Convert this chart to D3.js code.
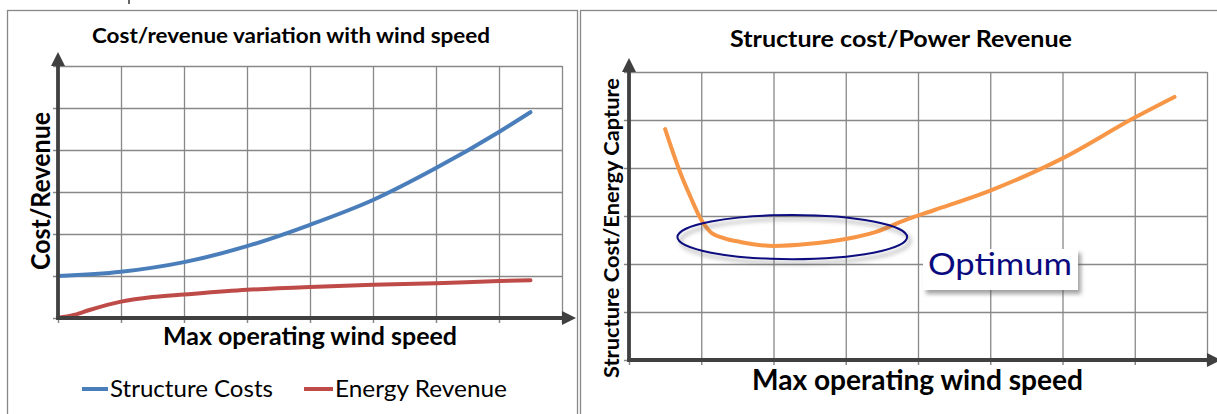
<!DOCTYPE html>
<html>
<head>
<meta charset="utf-8">
<script src="https://cdn.jsdelivr.net/npm/d3@7"></script>
<style>
  html, body { margin: 0; padding: 0; background: #fff; }
  svg { display: block; }
  text { font-family: Lato, "Open Sans", sans-serif; fill: #000; }
</style>
</head>
<body>
<svg id="chart" width="1217" height="414"></svg>
<script>
// ---- data -------------------------------------------------------------
// Left panel: cost / revenue versus max operating wind speed (arbitrary units)
const costX     = [0, 1, 2, 3, 4, 5, 6, 7, 7.5];
const costY     = [1.0, 1.1, 1.33, 1.71, 2.22, 2.81, 3.57, 4.43, 4.9];
const revenueX  = [0, 0.25, 0.5, 1, 1.5, 2, 3, 4, 5, 6, 7, 7.5];
const revenueY  = [0, 0.07, 0.19, 0.39, 0.5, 0.56, 0.67, 0.74, 0.79, 0.83, 0.88, 0.9];
// Right panel: ratio of structure cost to energy capture
const ratioX    = [0.5, 0.71, 0.85, 1.0, 1.125, 1.31, 1.54, 2.0, 2.5, 3.0, 3.42, 3.83, 4.22, 5.0, 5.67, 6.0, 7.0, 7.55];
const ratioY    = [4.81, 3.9, 3.4, 2.92, 2.67, 2.54, 2.46, 2.375, 2.42, 2.52, 2.67, 2.92, 3.12, 3.53, 3.96, 4.2, 5.05, 5.48];
const seriesNames = ["Structure Costs", "Energy Revenue"];
const titles    = ["Cost/revenue variation with wind speed", "Structure cost/Power Revenue"];
const yLabels   = ["Cost/Revenue", "Structure Cost/Energy  Capture"];
const xLabel    = "Max operating wind speed";
const optimumLabel = "Optimum";
// optimum region (centre and half-widths in data units)
const optimumCentre = [2.26, 2.56];
const optimumRadii  = [1.59, 0.46];

// ---- drawing ----------------------------------------------------------
const svg = d3.select("#chart");
const GRID = "#888", AXIS = "#404040";
const colors = { cost: "#4a7ebb", revenue: "#be4b48", ratio: "#f79646", navy: "#0a0a80" };

const defs = svg.append("defs");
defs.append("filter").attr("id", "shadow").attr("x", "-20%").attr("y", "-40%").attr("width", "150%").attr("height", "200%")
  .append("feDropShadow").attr("dx", 3).attr("dy", 4).attr("stdDeviation", 2.2)
  .attr("flood-color", "#555").attr("flood-opacity", 0.55);

// panel frames
svg.append("rect").attr("x", 7.5).attr("y", 10.5).attr("width", 570).attr("height", 420)
  .attr("fill", "none").attr("stroke", GRID).attr("stroke-width", 1.3);
svg.append("rect").attr("x", 580.5).attr("y", 10.5).attr("width", 700).attr("height", 420)
  .attr("fill", "none").attr("stroke", GRID).attr("stroke-width", 1.3);
// small connector mark peeking in at the top
svg.append("line").attr("x1", 129).attr("x2", 129).attr("y1", 0).attr("y2", 4)
  .attr("stroke", "#666").attr("stroke-width", 2);

function fitText(g, str, x, y, len, size, weight, anchor, extra) {
  const t = g.append("text").attr("x", x).attr("y", y).text(str)
    .attr("font-size", size).attr("font-weight", weight)
    .attr("textLength", len).attr("lengthAdjust", "spacingAndGlyphs");
  if (anchor) t.attr("text-anchor", anchor);
  if (extra) extra(t);
  return t;
}

function panel(opt) {
  const g = svg.append("g");
  const x = d3.scaleLinear().domain([0, 8]).range(opt.xr);
  const y = d3.scaleLinear().domain([0, 6]).range(opt.yr);
  const w = opt.xr[1] - opt.xr[0], h = opt.yr[0] - opt.yr[1];

  // grid from the axes' ticks
  g.append("g").attr("transform", `translate(${opt.xr[0]},0)`)
    .call(d3.axisLeft(y).ticks(6).tickSize(-w).tickFormat(""))
    .call(s => s.select(".domain").remove())
    .call(s => s.selectAll("line").attr("stroke", GRID).attr("stroke-width", 1.3));
  g.append("g").attr("transform", `translate(0,${opt.yr[1]})`)
    .call(d3.axisTop(x).ticks(8).tickSize(-h).tickFormat(""))
    .call(s => s.select(".domain").remove())
    .call(s => s.selectAll("line").attr("stroke", GRID).attr("stroke-width", 1.3));
  // short outer tick marks
  g.append("g").attr("transform", `translate(${opt.xr[0]},0)`)
    .call(d3.axisLeft(y).ticks(6).tickSize(5).tickFormat(""))
    .call(s => s.select(".domain").remove())
    .call(s => s.selectAll("line").attr("stroke", GRID).attr("stroke-width", 1.5));
  g.append("g").attr("transform", `translate(0,${opt.yr[0]})`)
    .call(d3.axisBottom(x).ticks(8).tickSize(5).tickFormat(""))
    .call(s => s.select(".domain").remove())
    .call(s => s.selectAll("line").attr("stroke", GRID).attr("stroke-width", 1.5));

  // series
  opt.series.forEach(s => {
    const pts = s.xs.map((v, i) => [v, s.ys[i]]);
    g.append("path").datum(pts)
      .attr("fill", "none").attr("stroke", s.color).attr("stroke-width", 4)
      .attr("stroke-linecap", "round").attr("stroke-linejoin", "round")
      .attr("d", d3.line().x(d => x(d[0])).y(d => y(d[1])).curve(d3.curveMonotoneX));
  });

  // axes with arrowheads
  const x0 = opt.xr[0], y0 = opt.yr[0];
  g.append("line").attr("x1", x0).attr("x2", x0).attr("y1", y0 + 1.5).attr("y2", opt.yr[1] - 2)
    .attr("stroke", AXIS).attr("stroke-width", 3.8);
  g.append("line").attr("x1", x0 - 1.8).attr("x2", opt.xr[1] + 2).attr("y1", y0).attr("y2", y0)
    .attr("stroke", AXIS).attr("stroke-width", 3.8);
  g.append("path").attr("fill", AXIS)
    .attr("d", `M${x0 - 7},${opt.yr[1]} L${x0 + 7},${opt.yr[1]} L${x0},${opt.yr[1] - 14} Z`);
  g.append("path").attr("fill", AXIS)
    .attr("d", `M${opt.xr[1]},${y0 - 7} L${opt.xr[1]},${y0 + 7} L${opt.xr[1] + 14},${y0} Z`);

  return { g, x, y };
}

// left panel
const L = panel({
  xr: [58, 562], yr: [318, 66],
  series: [
    { xs: costX, ys: costY, color: colors.cost },
    { xs: revenueX, ys: revenueY, color: colors.revenue }
  ]
});
fitText(L.g, titles[0], 92, 43, 398, 21, 700);
fitText(L.g, xLabel, 163, 345, 294, 25, 700);
fitText(L.g, yLabels[0], 0, 0, 158, 26, 700, null,
  t => t.attr("transform", "translate(50,270) rotate(-90)"));

// legend
const legend = [
  { name: seriesNames[0], color: colors.cost, lx: [82, 108], tx: 110, len: 163 },
  { name: seriesNames[1], color: colors.revenue, lx: [304, 333], tx: 335, len: 172 }
];
legend.forEach(d => {
  L.g.append("line").attr("x1", d.lx[0]).attr("x2", d.lx[1]).attr("y1", 389).attr("y2", 389)
    .attr("stroke", d.color).attr("stroke-width", 4);
  fitText(L.g, d.name, d.tx, 397, d.len, 24, 400);
});

// right panel
const R = panel({
  xr: [629, 1207], yr: [360, 72],
  series: [{ xs: ratioX, ys: ratioY, color: colors.ratio }]
});
fitText(R.g, titles[1], 730, 47, 342, 22, 700);
fitText(R.g, xLabel, 752, 390, 331, 28, 700);
fitText(R.g, yLabels[1], 0, 0, 300, 20, 700, null,
  t => t.attr("transform", "translate(619,378) rotate(-90)"));

// optimum region marker
R.g.append("ellipse")
  .attr("cx", R.x(optimumCentre[0])).attr("cy", R.y(optimumCentre[1]))
  .attr("rx", R.x(optimumCentre[0] + optimumRadii[0]) - R.x(optimumCentre[0]))
  .attr("ry", R.y(optimumCentre[1]) - R.y(optimumCentre[1] + optimumRadii[1]))
  .attr("fill", "none").attr("stroke", colors.navy).attr("stroke-width", 2)
  .attr("filter", "url(#shadow)");

// callout box
const box = R.g.append("g");
box.append("rect").attr("x", 923).attr("y", 249).attr("width", 155).attr("height", 41)
  .attr("fill", "#fff").attr("filter", "url(#shadow)");
box.append("text").attr("x", 928).attr("y", 275).text(optimumLabel)
  .attr("font-family", "DejaVu Sans, sans-serif").attr("font-size", 30)
  .attr("textLength", 144).attr("lengthAdjust", "spacingAndGlyphs")
  .style("fill", colors.navy);
</script>
</body>
</html>
